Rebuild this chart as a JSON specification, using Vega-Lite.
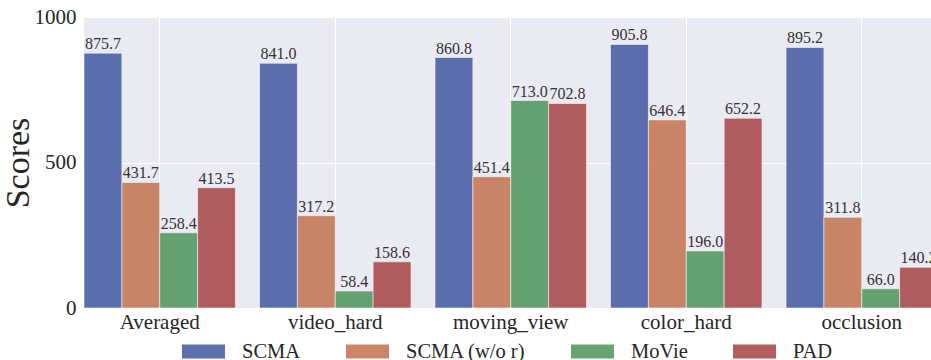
{
  "$schema": "https://vega.github.io/schema/vega-lite/v6.json",
  "width": 847,
  "height": 291,
  "autosize": {"type": "none"},
  "padding": {"left": 84, "top": 17, "right": 0, "bottom": 52},
  "background": "white",
  "data": {
    "values": [
      {"task": "Averaged", "method": "SCMA", "score": 875.7},
      {"task": "Averaged", "method": "SCMA (w/o r)", "score": 431.7},
      {"task": "Averaged", "method": "MoVie", "score": 258.4},
      {"task": "Averaged", "method": "PAD", "score": 413.5},
      {"task": "video_hard", "method": "SCMA", "score": 841.0},
      {"task": "video_hard", "method": "SCMA (w/o r)", "score": 317.2},
      {"task": "video_hard", "method": "MoVie", "score": 58.4},
      {"task": "video_hard", "method": "PAD", "score": 158.6},
      {"task": "moving_view", "method": "SCMA", "score": 860.8},
      {"task": "moving_view", "method": "SCMA (w/o r)", "score": 451.4},
      {"task": "moving_view", "method": "MoVie", "score": 713.0},
      {"task": "moving_view", "method": "PAD", "score": 702.8},
      {"task": "color_hard", "method": "SCMA", "score": 905.8},
      {"task": "color_hard", "method": "SCMA (w/o r)", "score": 646.4},
      {"task": "color_hard", "method": "MoVie", "score": 196.0},
      {"task": "color_hard", "method": "PAD", "score": 652.2},
      {"task": "occlusion", "method": "SCMA", "score": 895.2},
      {"task": "occlusion", "method": "SCMA (w/o r)", "score": 311.8},
      {"task": "occlusion", "method": "MoVie", "score": 66.0},
      {"task": "occlusion", "method": "PAD", "score": 140.2}
    ]
  },
  "encoding": {
    "x": {
      "field": "task",
      "type": "nominal",
      "sort": null,
      "scale": {"range": [0, 853.5], "paddingInner": 0.137, "paddingOuter": 0},
      "axis": {
        "title": null,
        "labelAngle": 0,
        "grid": true,
        "bandPosition": 0.5,
        "ticks": false,
        "domain": false,
        "labelPadding": 3,
        "labelFontSize": 21
      }
    },
    "xOffset": {
      "field": "method",
      "type": "nominal",
      "sort": ["SCMA", "SCMA (w/o r)", "MoVie", "PAD"],
      "scale": {"paddingInner": 0, "paddingOuter": 0}
    },
    "y": {
      "field": "score",
      "type": "quantitative",
      "scale": {"domain": [0, 1000], "nice": false},
      "axis": {
        "title": "Scores",
        "values": [0, 500, 1000],
        "format": "d",
        "ticks": false,
        "domain": false,
        "labelPadding": 8,
        "labelFontSize": 21,
        "titleFontSize": 34,
        "titleFontWeight": "normal",
        "titlePadding": -1
      }
    }
  },
  "layer": [
    {
      "mark": {"type": "bar", "opacity": 0.9, "stroke": "white", "strokeWidth": 0.8, "strokeOpacity": 0.7},
      "encoding": {
        "color": {
          "field": "method",
          "type": "nominal",
          "sort": ["SCMA", "SCMA (w/o r)", "MoVie", "PAD"],
          "scale": {
            "domain": ["SCMA", "SCMA (w/o r)", "MoVie", "PAD"],
            "range": ["#4B60A5", "#C57958", "#569A62", "#AA4D4E"]
          },
          "legend": {
            "title": null,
            "orient": "bottom",
            "direction": "horizontal",
            "symbolType": "M-1,-0.326H1V0.326H-1Z",
            "symbolSize": 1849,
            "symbolStrokeWidth": 0,
            "labelFontSize": 20.5,
            "labelOffset": 17,
            "columnPadding": 45,
            "offset": -2
          }
        }
      }
    },
    {
      "mark": {"type": "text", "baseline": "bottom", "dy": -1, "fontSize": 16, "font": "Liberation Serif", "color": "#333333"},
      "encoding": {
        "text": {"field": "score", "type": "quantitative", "format": ".1f"}
      }
    }
  ],
  "config": {
    "font": "Liberation Serif",
    "view": {"stroke": null, "fill": "#EAEAF2"},
    "text": {"font": "Liberation Serif"},
    "axis": {
      "gridColor": "white",
      "gridWidth": 1,
      "gridOpacity": 1,
      "labelColor": "#262626",
      "titleColor": "#262626",
      "labelFont": "Liberation Serif",
      "titleFont": "Liberation Serif"
    },
    "legend": {
      "labelColor": "#262626",
      "labelFont": "Liberation Serif",
      "layout": {"bottom": {"anchor": "middle"}}
    }
  }
}
